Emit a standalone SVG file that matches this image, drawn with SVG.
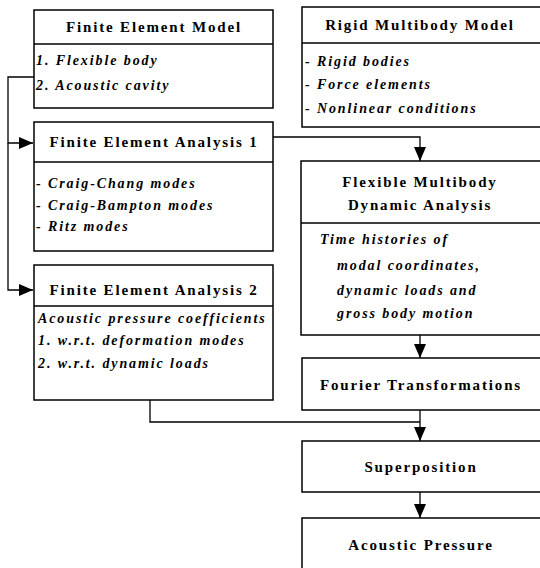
<svg xmlns="http://www.w3.org/2000/svg" width="540" height="568" viewBox="0 0 540 568">
<style>
.box{fill:#fff;stroke:#000;stroke-width:1.5}
.div{stroke:#000;stroke-width:1.3}
.t{font-family:"Liberation Serif","Times New Roman",serif;font-weight:bold;font-size:15px;letter-spacing:1.85px;text-anchor:middle;fill:#000}
.i{font-family:"Liberation Serif","Times New Roman",serif;font-weight:bold;font-style:italic;font-size:14px;letter-spacing:1.9px;fill:#000}
.c{fill:none;stroke:#000;stroke-width:1.3}
</style>
<defs>
<marker id="ah2" viewBox="0 0 14 12" refX="14" refY="6" markerWidth="14" markerHeight="12" markerUnits="userSpaceOnUse" orient="auto">
<path d="M0,0 L14,6 L0,12 Z" fill="#000"/>
</marker>
</defs>
<rect width="540" height="568" fill="#fff"/>
<g id="connectors">
<path class="c" d="M34,77 H8 V143 H33" marker-end="url(#ah2)"/>
<path class="c" d="M8,143 V290 H33" marker-end="url(#ah2)"/>
<path class="c" d="M273,137 H420 V161" marker-end="url(#ah2)"/>
<path class="c" d="M420,335 V358" marker-end="url(#ah2)"/>
<path class="c" d="M150,400 V422 H420"/>
<path class="c" d="M420,410 V441" marker-end="url(#ah2)"/>
<path class="c" d="M420,492 V518" marker-end="url(#ah2)"/>
</g>
<g id="fem">
<rect class="box" x="34" y="10" width="239" height="98"/>
<line class="div" x1="34" y1="44" x2="273" y2="44"/>
<text class="t" x="154" y="32">Finite Element Model</text>
<text class="i" x="36" y="65">1. Flexible body</text>
<text class="i" x="36" y="90">2. Acoustic cavity</text>
</g>
<g id="fea1">
<rect class="box" x="34" y="122" width="239" height="129"/>
<line class="div" x1="34" y1="162" x2="273" y2="162"/>
<text class="t" x="154" y="147">Finite Element Analysis 1</text>
<text class="i" x="36" y="188">- Craig-Chang modes</text>
<text class="i" x="36" y="210">- Craig-Bampton modes</text>
<text class="i" x="36" y="231">- Ritz modes</text>
</g>
<g id="fea2">
<rect class="box" x="34" y="265" width="239" height="135"/>
<line class="div" x1="34" y1="306" x2="273" y2="306"/>
<text class="t" x="154" y="295">Finite Element Analysis 2</text>
<text class="i" x="38" y="323">Acoustic pressure coefficients</text>
<text class="i" x="38" y="345">1. w.r.t. deformation modes</text>
<text class="i" x="38" y="368">2. w.r.t. dynamic loads</text>
</g>
<g id="rmm">
<rect class="box" x="302" y="7" width="240" height="120"/>
<line class="div" x1="302" y1="43" x2="542" y2="43"/>
<text class="t" x="420" y="30">Rigid Multibody Model</text>
<text class="i" x="305" y="66">- Rigid bodies</text>
<text class="i" x="305" y="89">- Force elements</text>
<text class="i" x="305" y="113">- Nonlinear conditions</text>
</g>
<g id="fmda">
<rect class="box" x="301" y="161" width="241" height="174"/>
<line class="div" x1="301" y1="223" x2="542" y2="223"/>
<text class="t" x="420" y="187">Flexible Multibody</text>
<text class="t" x="420" y="210">Dynamic Analysis</text>
<text class="i" x="320" y="244">Time histories of</text>
<text class="i" x="337" y="270">modal coordinates,</text>
<text class="i" x="337" y="295">dynamic loads and</text>
<text class="i" x="337" y="318">gross body motion</text>
</g>
<g id="fourier">
<rect class="box" x="302" y="358" width="240" height="52"/>
<text class="t" x="421" y="390">Fourier Transformations</text>
</g>
<g id="superposition">
<rect class="box" x="302" y="441" width="240" height="51"/>
<text class="t" x="421" y="472">Superposition</text>
</g>
<g id="acoustic">
<rect class="box" x="302" y="518" width="240" height="60"/>
<text class="t" x="421" y="550">Acoustic Pressure</text>
</g>
</svg>
